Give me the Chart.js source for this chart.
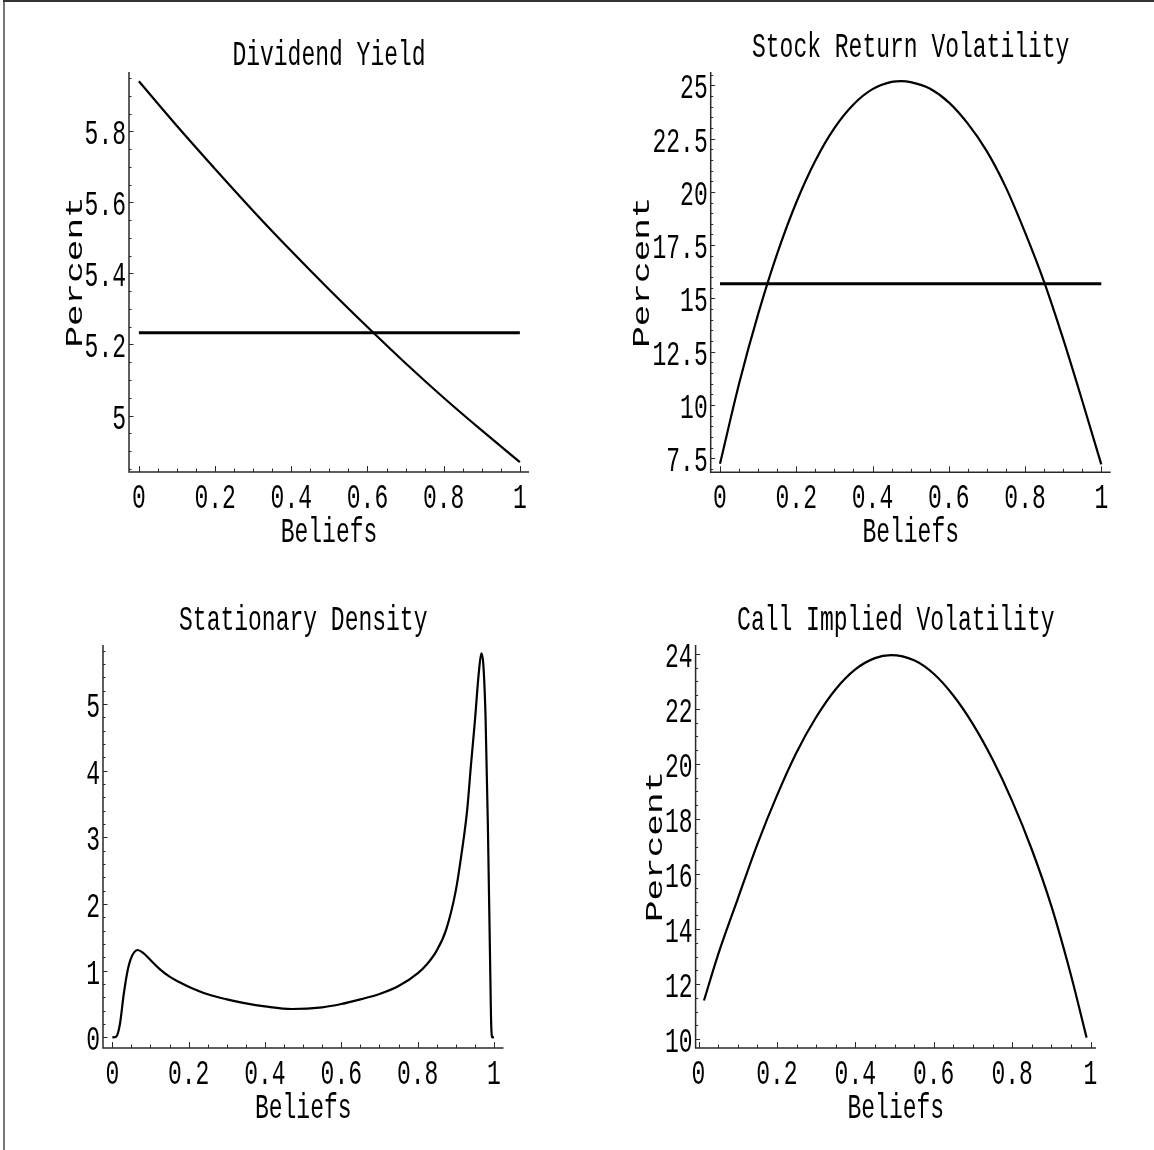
<!DOCTYPE html>
<html>
<head>
<meta charset="utf-8">
<title>Beliefs panels</title>
<script src="https://cdn.jsdelivr.net/npm/chart.js@4.4.1/dist/chart.umd.min.js"></script>
<style>
  html, body { margin: 0; padding: 0; background: #fff; }
  #page { position: relative; width: 1154px; height: 1150px; overflow: hidden; background: #fff; }
  #page canvas { position: absolute; left: 0; top: 0; }
  #edgeLeft { position: absolute; left: 3px; top: 0; width: 2px; height: 1150px; background: #777; }
  #edgeTop { position: absolute; left: 3px; top: 0; width: 1151px; height: 2px; background: #333; }
</style>
</head>
<body>
<div id="page">
  <canvas id="divChart" width="1154" height="1150"></canvas>
  <canvas id="volChart" width="1154" height="1150"></canvas>
  <canvas id="densChart" width="1154" height="1150"></canvas>
  <canvas id="ivChart" width="1154" height="1150"></canvas>
  <div id="edgeLeft"></div>
  <div id="edgeTop"></div>
</div>
<script>
// ---- data ----
const beliefTicks = [0, 0.2, 0.4, 0.6, 0.8, 1];

// Dividend Yield
const divBeliefs = [0, 0.1, 0.2, 0.3, 0.4, 0.5, 0.6, 0.7, 0.8, 0.9, 1];
const divYield = [5.941, 5.815, 5.694, 5.576, 5.463, 5.354, 5.249, 5.147, 5.050, 4.958, 4.869];
const divFlatBeliefs = [0, 1];
const divFlat = [5.233, 5.233];
const divTicks = [5, 5.2, 5.4, 5.6, 5.8];

// Stock Return Volatility
const volBeliefs = [0, 0.05, 0.1, 0.15, 0.2, 0.25, 0.3, 0.35, 0.4, 0.45, 0.4765, 0.5, 0.55, 0.6, 0.65, 0.7, 0.75, 0.8, 0.85, 0.9, 0.95, 1];
const volValues = [7.24, 11.0, 14.26, 17.1, 19.5, 21.46, 22.99, 24.1, 24.82, 25.16, 25.2, 25.15, 24.85, 24.2, 23.2, 21.9, 20.2, 18.1, 15.78, 13.1, 10.2, 7.21];
const volFlatBeliefs = [0, 1];
const volFlat = [15.69, 15.69];
const volTicks = [7.5, 10, 12.5, 15, 17.5, 20, 22.5, 25];

// Stationary Density
const densBeliefs = [0, 0.01, 0.02, 0.03, 0.04, 0.05, 0.0665, 0.08, 0.1, 0.125, 0.15, 0.175, 0.2, 0.25, 0.3, 0.35, 0.4, 0.47, 0.55, 0.6, 0.65, 0.7, 0.75, 0.8, 0.825, 0.85, 0.875, 0.9, 0.915, 0.93, 0.94, 0.95, 0.96, 0.967, 0.972, 0.978, 0.984, 0.99, 0.993, 0.996, 1];
const densValues = [0, 0.01, 0.2, 0.65, 1.0, 1.2, 1.31, 1.27, 1.16, 1.02, 0.91, 0.83, 0.76, 0.645, 0.57, 0.51, 0.465, 0.425, 0.45, 0.5, 0.57, 0.65, 0.77, 0.96, 1.1, 1.3, 1.62, 2.2, 2.75, 3.42, 4.1, 4.74, 5.45, 5.76, 5.6, 4.8, 3.2, 1.1, 0.15, 0, 0];
const densTicks = [0, 1, 2, 3, 4, 5];

// Call Implied Volatility
const ivBeliefs = [0.014, 0.05, 0.1, 0.15, 0.2, 0.25, 0.3, 0.35, 0.4, 0.45, 0.491, 0.55, 0.6, 0.65, 0.7, 0.75, 0.8, 0.85, 0.9, 0.95, 0.99];
const ivValues = [11.4, 13.07, 15.09, 17.08, 18.85, 20.42, 21.7, 22.72, 23.44, 23.85, 23.96, 23.77, 23.28, 22.49, 21.45, 20.17, 18.66, 16.9, 14.84, 12.33, 10.05];
const ivTicks = [10, 12, 14, 16, 18, 20, 22, 24];

// ---- drawing helpers ----
const PAGE_W = 1154, PAGE_H = 1150;
const SY = 1.5; // the original lettering is stretched vertically
const FONT = '23px "Liberation Mono", "DejaVu Sans Mono", monospace';
const SIDE_FONT = '24px "Liberation Mono", "DejaVu Sans Mono", monospace';

function toPoints(xs, ys) {
  return xs.map((x, i) => ({ x: x, y: ys[i] }));
}

function fmt(v) {
  return String(Math.round(v * 1000) / 1000);
}

function tallText(ctx, text, x, y, align, rotate) {
  ctx.save();
  ctx.translate(x, y);
  ctx.scale(1, SY);
  if (rotate) ctx.rotate(-Math.PI / 2);
  ctx.textAlign = align;
  ctx.textBaseline = 'alphabetic';
  ctx.fillText(text, 0, 0);
  ctx.restore();
}

// Mathematica-like frame: axes on left/bottom, inward ticks, stretched labels
const mathAxes = {
  id: 'mathAxes',
  afterDraw(chart, args, o) {
    const { ctx, chartArea: a } = chart;
    const xs = chart.scales.x, ys = chart.scales.y;
    ctx.save();
    ctx.strokeStyle = '#2a2a2a';
    ctx.fillStyle = '#000';
    ctx.font = FONT;

    // axis lines
    ctx.lineWidth = 1.5;
    ctx.beginPath();
    ctx.moveTo(a.left, a.top);
    ctx.lineTo(a.left, a.bottom);
    ctx.lineTo(a.right, a.bottom);
    ctx.stroke();

    // x ticks (minor every 0.05)
    ctx.lineWidth = 1;
    for (let k = Math.ceil(xs.min / 0.05); k * 0.05 <= xs.max + 1e-9; k++) {
      const v = k * 0.05;
      const major = k % 4 === 0;
      const px = Math.round(xs.getPixelForValue(v)) + 0.5;
      ctx.beginPath();
      ctx.moveTo(px, a.bottom);
      ctx.lineTo(px, a.bottom - (major ? 6 : 3.5));
      ctx.stroke();
    }
    // y ticks
    const step = o.yMinor;
    for (let k = Math.ceil(ys.min / step - 1e-9); k * step <= ys.max + 1e-9; k++) {
      const v = k * step;
      const major = o.yTicks.some(t => Math.abs(t - v) < step / 10);
      const py = Math.round(ys.getPixelForValue(v)) + 0.5;
      ctx.beginPath();
      ctx.moveTo(a.left, py);
      ctx.lineTo(a.left + (major ? 4.5 : 2.5), py);
      ctx.stroke();
    }

    const digitAsc = ctx.measureText('0').actualBoundingBoxAscent;

    // x tick labels
    beliefTicks.forEach(v => {
      tallText(ctx, fmt(v), xs.getPixelForValue(v), a.bottom + 36, 'center');
    });
    // y tick labels
    let widest = 0;
    o.yTicks.forEach(v => {
      const t = fmt(v);
      widest = Math.max(widest, ctx.measureText(t).width);
      tallText(ctx, t, a.left - 3, ys.getPixelForValue(v) + digitAsc * SY / 2 + 1, 'right');
    });

    const midX = (a.left + a.right) / 2;
    // title: ink bottom sits ~7.5px above the frame
    const desc = ctx.measureText(o.title).actualBoundingBoxDescent;
    tallText(ctx, o.title, midX, a.top - 7.5 - desc * SY, 'center');
    // x axis label
    tallText(ctx, 'Beliefs', midX, a.bottom + 69.5, 'center');
    // y axis label
    if (o.yTitle) {
      ctx.font = SIDE_FONT;
      tallText(ctx, o.yTitle, a.left - 3 - widest - 3, (a.top + a.bottom) / 2, 'center', true);
    }
    ctx.restore();
  }
};

function makeChart(id, box, xRange, yRange, datasets, axisOpts) {
  return new Chart(document.getElementById(id), {
    type: 'line',
    data: { datasets: datasets },
    options: {
      responsive: false,
      animation: false,
      events: [],
      layout: {
        padding: { left: box[0], top: box[1], right: PAGE_W - box[2], bottom: PAGE_H - box[3] }
      },
      elements: { point: { radius: 0 } },
      plugins: {
        legend: { display: false },
        tooltip: { enabled: false },
        mathAxes: axisOpts
      },
      scales: {
        x: { type: 'linear', display: false, min: xRange[0], max: xRange[1] },
        y: { type: 'linear', display: false, min: yRange[0], max: yRange[1] }
      }
    },
    plugins: [mathAxes]
  });
}

function curve(xs, ys) {
  return {
    data: toPoints(xs, ys),
    borderColor: '#000',
    borderWidth: 2.2,
    fill: false,
    cubicInterpolationMode: 'monotone'
  };
}

function flat(xs, ys) {
  return { data: toPoints(xs, ys), borderColor: '#000', borderWidth: 3, fill: false, tension: 0 };
}

// 1. Dividend Yield
makeChart('divChart', [129, 72, 529, 472], [-0.026, 1.024], [4.841, 5.967],
  [curve(divBeliefs, divYield), flat(divFlatBeliefs, divFlat)],
  { title: 'Dividend Yield', yTitle: 'Percent', yTicks: divTicks, yMinor: 0.05 });

// 2. Stock Return Volatility
makeChart('volChart', [710.7, 72, 1110.7, 472.3], [-0.0244, 1.0247], [6.84, 25.625],
  [curve(volBeliefs, volValues), flat(volFlatBeliefs, volFlat)],
  { title: 'Stock Return Volatility', yTitle: 'Percent', yTicks: volTicks, yMinor: 0.5 });

// 3. Stationary Density
makeChart('densChart', [103, 645, 503.5, 1048], [-0.0244, 1.025], [-0.16, 5.884],
  [curve(densBeliefs, densValues)],
  { title: 'Stationary Density', yTitle: null, yTicks: densTicks, yMinor: 0.2 });

// 4. Call Implied Volatility
makeChart('ivChart', [695.6, 645, 1096, 1048], [-0.0074, 1.014], [9.673, 24.327],
  [curve(ivBeliefs, ivValues)],
  { title: 'Call Implied Volatility', yTitle: 'Percent', yTicks: ivTicks, yMinor: 0.5 });
</script>
</body>
</html>
